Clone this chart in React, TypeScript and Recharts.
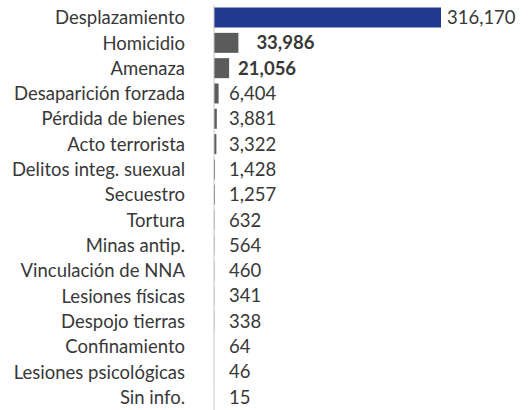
import { BarChart, Bar, XAxis, YAxis, Cell, LabelList } from "recharts";

const categories = [
  "Desplazamiento",
  "Homicidio",
  "Amenaza",
  "Desaparición forzada",
  "Pérdida de bienes",
  "Acto terrorista",
  "Delitos integ. suexual",
  "Secuestro",
  "Tortura",
  "Minas antip.",
  "Vinculación de NNA",
  "Lesiones físicas",
  "Despojo tierras",
  "Confinamiento",
  "Lesiones psicológicas",
  "Sin info.",
];

const victims = [316170, 33986, 21056, 6404, 3881, 3322, 1428, 1257, 632, 564, 460, 341, 338, 64, 46, 15];

const data = categories.map((name, i) => ({ name, value: victims[i] }));

const FONT = "Lato, 'Open Sans', sans-serif";

const renderValue = (props: any) => {
  const { x, y, width, height, value, index } = props;
  const end = Number(x) + Number(width);
  // Excel-style placement: big bars get a gap, the tiny ones line up
  let tx = Math.max(end + 6, Number(x) + 15);
  if (index === 1) tx += 12;
  if (index === 2) tx += 3;
  const bold = index === 1 || index === 2;
  return (
    <text
      x={tx}
      y={Number(y) + Number(height) / 2}
      dy="0.35em"
      fill="#383838"
      fontSize={18.5}
      fontFamily={FONT}
      fontWeight={bold ? 700 : 400}
    >
      {Number(value).toLocaleString("en-US")}
    </text>
  );
};

export default function App() {
  return (
    <div style={{ position: "absolute", left: 0, top: 0, width: 531, height: 410 }}>
      <BarChart
        width={531}
        height={410}
        data={data}
        layout="vertical"
        margin={{ top: 5, right: 90, bottom: 0, left: 0 }}
        barCategoryGap="10%"
      >
        <XAxis type="number" hide domain={[0, "dataMax"]} />
        <YAxis
          type="category"
          dataKey="name"
          width={214}
          tickLine={false}
          tickSize={0}
          tickMargin={29}
          axisLine={{ stroke: "#C8C8C8" }}
          interval={0}
          tick={{ fill: "#383838", fontSize: 18.5, fontFamily: FONT }}
        />
        <Bar dataKey="value" isAnimationActive={false}>
          {data.map((_, i) => (
            <Cell key={`cell-${i}`} fill={i === 0 ? "#213A8F" : "#5B5B5B"} />
          ))}
          <LabelList dataKey="value" content={renderValue} />
        </Bar>
      </BarChart>
    </div>
  );
}
